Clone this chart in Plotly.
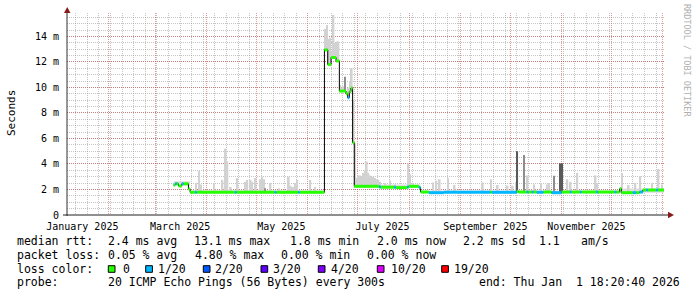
import pandas as pd
import plotly.graph_objects as go

W, H = 697, 297
ML, MR, MT, MB = 67, 33, 13, 82

start_time = "2025-01-06 18:20:40"
end_time = "2026-01-01 18:20:40"

# ---- median rtt (ms): each value holds from its date until the next date ----
median_dates = [
    "2025-03-12", "2025-03-13", "2025-03-14", "2025-03-15", "2025-03-17", "2025-03-18",
    "2025-03-21", "2025-03-22", "2025-03-25", "2025-03-26", "2025-04-18", "2025-04-19",
    "2025-05-12", "2025-05-13", "2025-05-26", "2025-05-27", "2025-06-11", "2025-06-13",
    "2025-06-15", "2025-06-18", "2025-06-20", "2025-06-24", "2025-06-25", "2025-06-26",
    "2025-06-27", "2025-06-28", "2025-06-29", "2025-07-14", "2025-07-15", "2025-07-23",
    "2025-07-24", "2025-07-31", "2025-08-01", "2025-08-07", "2025-08-08", "2025-08-13",
    "2025-08-22", "2025-09-19", "2025-09-20", "2025-10-05", "2025-10-06", "2025-10-11",
    "2025-10-12", "2025-10-14", "2025-10-15", "2025-10-17", "2025-10-21", "2025-10-26",
    "2025-11-01", "2025-11-06", "2025-11-07", "2025-11-12", "2025-11-13", "2025-11-22",
    "2025-11-23", "2025-12-03", "2025-12-04", "2025-12-06", "2025-12-07", "2025-12-14",
    "2025-12-16", "2025-12-18", "2025-12-20", "2025-12-22", "2025-12-23", "2025-12-28",
    "2025-12-29",
]
median_ms = [
    2.35, 2.45, 2.45, 2.28, 2.45, 2.45,
    2.05, 1.78, 1.78, 1.78, 1.78, 1.78,
    1.78, 1.78, 1.78, 1.78, 12.95, 11.8,
    12.35, 12.08, 9.72, 9.5, 9.2, 9.67,
    9.96, 5.67, 2.25, 2.2, 2.18, 2.18,
    2.15, 2.2, 2.25, 2.15, 1.8, 1.75,
    1.78, 1.78, 1.78, 1.85, 1.8, 1.8,
    1.8, 1.8, 1.8, 1.78, 1.8, 1.75,
    1.8, 1.8, 1.8, 1.8, 1.8, 1.8,
    1.8, 1.8, 1.8, 2.06, 1.75, 1.75,
    1.75, 1.8, 1.96, 1.96, 1.96, 1.96,
    1.96,
]
median_loss = [  # lost pings out of 20
    0, 1, 0, 0, 1, 0,
    0, 0, 1, 0, 1, 0,
    1, 0, 1, 0, 0, 0,
    0, 0, 0, 0, 1, 0,
    0, 0, 0, 1, 0, 1,
    0, 1, 0, 1, 0, 1,
    1, 0, 1, 0, 0, 1,
    0, 1, 0, 1, 0, 1,
    0, 1, 0, 1, 0, 1,
    0, 1, 0, 0, 0, 1,
    0, 1, 0, 1, 0, 1,
    0,
]

# ---- smoke: continuous band segments ----
band_start = ["2025-03-12", "2025-03-22", "2025-06-29", "2025-08-08", "2025-12-06"]
band_end = ["2025-03-22", "2025-06-11", "2025-08-08", "2025-12-06", "2026-01-01 18:20:40"]
band_lo = [2.3, 1.75, 2.15, 1.75, 1.75]
band_hi = [2.65, 1.95, 2.4, 1.93, 2.08]

# ---- smoke: light outlier spikes (max rtt, ms) ----
spike_dates = [
    "2025-03-25", "2025-03-27", "2025-03-28", "2025-04-05", "2025-04-10", "2025-04-12",
    "2025-04-13", "2025-04-15", "2025-04-19", "2025-04-24", "2025-04-25", "2025-04-27",
    "2025-04-28", "2025-04-30", "2025-05-03", "2025-05-04", "2025-05-05", "2025-05-09",
    "2025-05-14", "2025-05-20", "2025-05-21", "2025-05-22", "2025-05-23", "2025-05-24",
    "2025-05-25", "2025-06-02", "2025-06-05",
    "2025-06-11", "2025-06-12", "2025-06-13", "2025-06-14", "2025-06-15", "2025-06-16",
    "2025-06-17", "2025-06-18", "2025-06-19", "2025-06-20", "2025-06-21", "2025-06-22",
    "2025-06-23", "2025-06-24", "2025-06-25", "2025-06-26", "2025-06-27", "2025-06-28",
    "2025-06-29", "2025-06-30", "2025-07-01", "2025-07-02", "2025-07-03", "2025-07-04",
    "2025-07-05", "2025-07-06", "2025-07-07", "2025-07-08", "2025-07-09", "2025-07-10",
    "2025-07-11", "2025-07-12", "2025-07-13", "2025-07-14", "2025-07-17", "2025-07-20",
    "2025-07-23", "2025-07-31", "2025-08-01", "2025-08-03",
    "2025-08-15", "2025-08-17", "2025-08-19", "2025-08-24", "2025-08-28", "2025-09-14",
    "2025-09-19", "2025-09-23", "2025-09-29", "2025-10-02", "2025-10-04", "2025-10-11",
    "2025-10-15", "2025-10-19", "2025-10-23", "2025-10-24", "2025-11-04", "2025-11-06",
    "2025-11-10", "2025-11-21", "2025-11-22", "2025-12-07", "2025-12-11", "2025-12-15",
    "2025-12-18", "2025-12-25", "2025-12-29", "2025-12-31",
]
spike_hi = [
    2.5, 3.45, 2.4, 2.5, 2.75, 5.2,
    4.2, 2.2, 2.9, 2.6, 2.75, 2.75,
    2.6, 2.9, 2.8, 3.0, 2.8, 2.5,
    2.1, 3.0, 2.3, 2.2, 2.2, 2.5,
    2.75, 2.75, 2.2,
    14.6, 14.9, 13.8, 13.9, 12.8, 15.7,
    13.5, 13.6, 13.6, 10.2, 10.0, 10.1,
    10.0, 9.7, 10.0, 10.5, 11.5, 9.0,
    5.6, 2.9, 3.1, 3.1, 3.0, 3.3,
    3.5, 4.2, 3.3, 3.1, 3.0, 3.0,
    2.9, 2.8, 2.75, 2.6, 2.5, 2.7,
    2.4, 4.05, 3.2, 2.5,
    2.55, 2.7, 2.8, 2.88, 2.35, 2.55,
    2.8, 2.35, 2.3, 2.3, 2.6, 3.1,
    2.4, 2.5, 2.4, 2.5, 2.8, 2.6,
    3.3, 3.1, 2.5, 3.3, 2.35, 2.5,
    3.06, 2.5, 3.6, 2.4,
]

# ---- smoke: denser (darker) spikes ----
mid_dates = ["2025-05-06", "2025-06-23", "2025-10-09", "2025-10-27"]
mid_hi = [2.1, 10.85, 4.7, 3.08]
dark_dates = ["2025-10-05", "2025-10-31", "2025-11-01"]
dark_hi = [5.0, 4.05, 4.05]

# ---- loss legend ----
loss_levels = [0, 1, 2, 3, 4, 10, 19]
loss_labels = ["0", "1/20", "2/20", "3/20", "4/20", "10/20", "19/20"]
loss_colors = ["#26ff00", "#00b8ff", "#0059ff", "#5e00ff", "#7e00ff", "#dd00ff", "#ff0000"]

# ---- axis labels ----
month_label_dates = ["2025-01-16", "2025-03-16", "2025-05-16", "2025-07-16", "2025-09-16", "2025-11-16"]
month_labels = ["January 2025", "March 2025", "May 2025", "July 2025", "September 2025", "November 2025"]
y_tick_vals = [0, 2, 4, 6, 8, 10, 12, 14]
y_tick_text = ["0", "2 m", "4 m", "6 m", "8 m", "10 m", "12 m", "14 m"]

# ---- statistics text ----
rtt_stats = ["2.4 ms avg", "13.1 ms max", "1.8 ms min", "2.0 ms now", "2.2 ms sd", "1.1", "am/s"]
loss_stats = ["0.05 % avg", "4.80 % max", "0.00 % min", "0.00 % now"]
probe_text = "20 ICMP Echo Pings (56 Bytes) every 300s"
end_text = "end: Thu Jan\u00a0 1 18:20:40 2026"

FONT = "DejaVu Sans Mono"
MGRID = "rgba(200,70,70,0.55)"
GRID = "rgba(140,140,140,0.5)"
DAY_MS = 86400000


def to_dt(vals):
    return pd.to_datetime(vals, format="ISO8601")


md = to_dt(median_dates)
med_series = pd.Series(median_ms, index=md)
t_end = pd.Timestamp(end_time)


def base_at(dates):
    return [float(med_series.asof(pd.Timestamp(d))) for d in dates]


fig = go.Figure()

# continuous smoke band
bs = to_dt(band_start)
be = to_dt(band_end)
fig.add_trace(go.Bar(
    x=bs, base=band_lo, y=[h - l for h, l in zip(band_hi, band_lo)],
    width=[(e - s).total_seconds() * 1000 for s, e in zip(bs, be)], offset=0,
    marker=dict(color="#dedede", line=dict(width=0)), hoverinfo="skip"))

for dates, his, col, wd in [(spike_dates, spike_hi, "#d2d2d2", 1.0),
                            (mid_dates, mid_hi, "#8e8e8e", 0.7),
                            (dark_dates, dark_hi, "#5a5a5a", 0.75)]:
    b = base_at(dates)
    fig.add_trace(go.Bar(
        x=to_dt(dates), base=b, y=[h - l for h, l in zip(his, b)],
        width=wd * DAY_MS, offset=0, marker=dict(color=col, line=dict(width=0)),
        hoverinfo="skip"))

# black step line of the median
fig.add_trace(go.Scatter(
    x=list(md) + [t_end], y=median_ms + [median_ms[-1]], mode="lines",
    line=dict(color="black", width=1, shape="hv"), xaxis="x2", hoverinfo="skip"))

# loss-coloured median segments
seg_end = list(md[1:]) + [t_end]
for lvl, col in zip(loss_levels, loss_colors):
    xs, ys = [], []
    for s, e, v, l in zip(md, seg_end, median_ms, median_loss):
        if l == lvl:
            xs += [s, e, None]
            ys += [v, v, None]
    if xs:
        fig.add_trace(go.Scatter(x=xs, y=ys, mode="lines", line=dict(color=col, width=3),
                                 xaxis="x2", hoverinfo="skip"))

PW = W - ML - MR
PH = H - MT - MB


def px(x):
    return (x - ML) / PW


def py(y):
    return (H - MB - y) / PH


shapes = []
# axes with arrows
shapes.append(dict(type="line", xref="paper", yref="paper", x0=px(67), x1=px(67), y0=py(216), y1=py(10),
                   line=dict(color="#303030", width=1)))
shapes.append(dict(type="line", xref="paper", yref="paper", x0=px(63), x1=px(669), y0=py(215), y1=py(215),
                   line=dict(color="#202020", width=1)))
shapes.append(dict(type="path", xref="paper", yref="paper",
                   path=f"M {px(64)},{py(13)} L {px(70.5)},{py(13)} L {px(67.2)},{py(7)} Z",
                   fillcolor="#8a1a1a", line=dict(width=0)))
shapes.append(dict(type="path", xref="paper", yref="paper",
                   path=f"M {px(668)},{py(211.8)} L {px(668)},{py(218.3)} L {px(674)},{py(215)} Z",
                   fillcolor="#8a1a1a", line=dict(width=0)))

annotations = []


def text(t, x, y, size=11.5, color="black", angle=0, anchor="left"):
    annotations.append(dict(text=t, x=px(x), y=py(y), xref="paper", yref="paper",
                            xanchor=anchor, yanchor="middle", showarrow=False,
                            textangle=angle, font=dict(family=FONT, size=size, color=color),
                            borderpad=0))


text("Seconds", 11, 113, size=11, angle=-90, anchor="center")
text("RRDTOOL / TOBI OETIKER", 687, 60, size=8.5, color="#b0b0b0", angle=90, anchor="center")

row_y = [241, 255, 268.5, 282]
col_x = [107, 193, 289, 376, 462, 538, 580]
text("median rtt:", 16, row_y[0])
for t, x in zip(rtt_stats, col_x):
    text(t, x, row_y[0])
text("packet loss:", 16, row_y[1])
for t, x in zip(loss_stats, [107, 194, 280, 366]):
    text(t, x, row_y[1])
text("loss color:", 16, row_y[2])
box_x = [108.3, 145.7, 203.3, 261, 318.3, 377.3, 441.7]
lab_x = [121.7, 156.7, 214.3, 271.7, 329.5, 390, 453.3]
for bx, lx, lab, col in zip(box_x, lab_x, loss_labels, loss_colors):
    shapes.append(dict(type="rect", xref="paper", yref="paper", x0=px(bx), x1=px(bx + 6.7),
                       y0=py(265.7), y1=py(272.3), fillcolor=col, line=dict(color="black", width=1)))
    text(lab, lx, row_y[2])
text("probe:", 16, row_y[3])
text(probe_text, 107, row_y[3])
text(end_text, 478, row_y[3])

fig.update_layout(
    width=W, height=H, margin=dict(l=ML, r=MR, t=MT, b=MB, pad=0),
    paper_bgcolor="white", plot_bgcolor="white", showlegend=False, barmode="overlay",
    xaxis=dict(type="date", range=[start_time, end_time], tickmode="array",
               tickvals=month_label_dates, ticktext=month_labels, showgrid=False,
               zeroline=False, showline=False, ticks="outside", ticklen=2,
               tickcolor="rgba(0,0,0,0)",
               tickfont=dict(family=FONT, size=10, color="black")),
    xaxis2=dict(type="date", overlaying="x", matches="x", range=[start_time, end_time],
                showticklabels=False, ticks="", dtick="M1", tick0="2025-01-01",
                showgrid=True, gridcolor=MGRID, griddash="1px,1px", gridwidth=1,
                minor=dict(dtick=7 * DAY_MS, tick0="2025-01-05", showgrid=True,
                           gridcolor=GRID, griddash="1px,1px", gridwidth=1),
                zeroline=False, showline=False),
    yaxis=dict(range=[0, 15.84], tickmode="array", tickvals=y_tick_vals, ticktext=y_tick_text,
               showgrid=True, gridcolor=MGRID, griddash="1px,1px", gridwidth=1,
               minor=dict(dtick=0.5, tick0=0, showgrid=True, gridcolor=GRID,
                          griddash="1px,1px", gridwidth=1),
               zeroline=False, showline=False, ticks="outside", ticklen=5,
               tickcolor="rgba(0,0,0,0)",
               tickfont=dict(family=FONT, size=10, color="black")),
    shapes=shapes, annotations=annotations,
)

fig.write_html("out.html")
